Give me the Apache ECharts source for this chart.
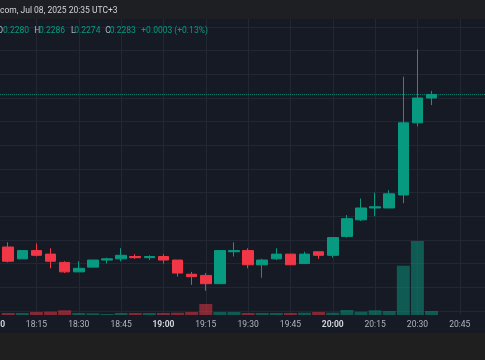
<!DOCTYPE html>
<html><head><meta charset="utf-8">
<script src="https://cdn.jsdelivr.net/npm/echarts@6/dist/echarts.min.js"></script>
<style>html,body{margin:0;padding:0;background:#161a25;}#c{width:485px;height:360px;}</style>
</head><body><div id="c"></div>
<script>
// ---- data (5-minute candles) ----
const times = ["18:05","18:10","18:15","18:20","18:25","18:30","18:35","18:40","18:45","18:50","18:55",
  "19:00","19:05","19:10","19:15","19:20","19:25","19:30","19:35","19:40","19:45","19:50","19:55",
  "20:00","20:05","20:10","20:15","20:20","20:25","20:30","20:35"];
const open = [0.2154,0.2144,0.2151,0.2148,0.2141,0.2133,0.2137,0.2143,0.2144,0.2146,0.2145,
  0.2146,0.2143,0.2131,0.2130,0.2123,0.2150,0.2151,0.2139,0.2144,0.2148,0.2140,0.2150,
  0.2147,0.2163,0.2177,0.2187,0.2187,0.2198,0.2259,0.2280];
const close = [0.2142,0.2151,0.2147,0.2142,0.2133,0.2136,0.2143,0.2144,0.2147,0.2145,0.2146,
  0.2143,0.2132,0.2129,0.2123,0.2151,0.2151,0.2139,0.2143,0.2148,0.2139,0.2148,0.2147,
  0.2162,0.2178,0.2187,0.2188,0.2199,0.2259,0.2280,0.2283];
const low = [0.2141,0.2144,0.2146,0.2136,0.2132,0.2133,0.2137,0.2140,0.2142,0.2144,0.2143,
  0.2140,0.2129,0.2122,0.2117,0.2123,0.2146,0.2136,0.2128,0.2143,0.2139,0.2140,0.2144,
  0.2145,0.2162,0.2176,0.2180,0.2187,0.2191,0.2256,0.2274];
const high = [0.2158,0.2151,0.2157,0.2153,0.2142,0.2142,0.2143,0.2145,0.2153,0.2148,0.2147,
  0.2148,0.2143,0.2133,0.2132,0.2151,0.2158,0.2153,0.2144,0.2153,0.2148,0.2150,0.2150,
  0.2162,0.2181,0.2195,0.2200,0.2202,0.2298,0.2321,0.2286];
const volume = [20,20,30,33,47,20,17,10,20,20,20,20,23,30,110,30,30,20,20,20,20,23,30,23,50,33,47,40,493,740,40];
const tickLabels = ["18:00","18:15","18:30","18:45","19:00","19:15","19:30","19:45","20:00","20:15","20:30","20:45","21:00"];
const headerText = "com, Jul 08, 2025 20:35 UTC+3";

// ---- build ----
const UP = '#089981', DOWN = '#f23645';
const BG = '#161a25', GRIDC = '#232733';
const toMin = s => { const [h, m] = s.split(':').map(Number); return (h - 18) * 60 + m; };
const candles = times.map((t, i) => [toMin(t), open[i], close[i], low[i], high[i]]);
const vols = times.map((t, i) => ({
  value: [toMin(t), volume[i]],
  itemStyle: { color: close[i] >= open[i] ? 'rgba(8,153,129,0.5)' : 'rgba(242,54,69,0.5)' }
}));
const n = times.length - 1;
const lastO = open[n], lastH = high[n], lastL = low[n], lastC = close[n];
const chg = lastC - lastO;
const chgTxt = (chg >= 0 ? '+' : '') + chg.toFixed(4) + ' (' + (chg >= 0 ? '+' : '') + (chg / lastO * 100).toFixed(2) + '%)';

const FONT = 'Roboto';
const FS = 8.5;
const X_MIN = 0, X_MAX = 180;
const xBase = { type: 'value', min: X_MIN, max: X_MAX, interval: 15 };

const chart = echarts.init(document.getElementById('c'), null, { renderer: 'canvas' });
chart.setOption({
  animation: false,
  backgroundColor: BG,
  grid: [
    { left: -5.9, right: -17.1, top: 3.36, bottom: 49.1, containLabel: false, outerBoundsMode: 'none' },
    { left: -5.9, right: -17.1, top: 215, bottom: 45, containLabel: false, outerBoundsMode: 'none' }
  ],
  xAxis: [
    Object.assign({}, xBase, { gridIndex: 0, axisLine: { show: false }, axisTick: { show: false }, axisLabel: { show: false },
      splitLine: { show: true, lineStyle: { color: GRIDC, width: 1 } } }),
    Object.assign({}, xBase, { gridIndex: 1, axisLine: { show: false }, axisTick: { show: false },
      splitLine: { show: true, lineStyle: { color: GRIDC, width: 1 } },
      axisLabel: { show: true, margin: 5, fontFamily: FONT, fontSize: FS, color: '#b2b5be',
        showMinLabel: true, showMaxLabel: true, hideOverlap: false,
        formatter: v => { const s = tickLabels[Math.round(v / 15)] || ''; return s.endsWith(':00') ? '{b|' + s + '}' : s; },
        rich: { b: { fontFamily: FONT, fontSize: FS, fontWeight: 'bold', color: '#d1d4dc' } } } })
  ],
  yAxis: [
    { type: 'value', gridIndex: 0, min: 0.2100, max: 0.2360, interval: 0.002, axisLine: { show: false }, axisTick: { show: false },
      axisLabel: { show: false }, splitLine: { show: true, lineStyle: { color: GRIDC, width: 1 } } },
    { type: 'value', gridIndex: 1, min: 0, max: 1000, axisLine: { show: false }, axisTick: { show: false },
      axisLabel: { show: false }, splitLine: { show: false } }
  ],
  series: [
    { type: 'bar', xAxisIndex: 1, yAxisIndex: 1, data: vols, barWidth: 13, z: 1 },
    { type: 'line', xAxisIndex: 0, yAxisIndex: 0, data: [[X_MIN, lastC], [X_MAX, lastC]], symbol: 'none', silent: true, z: 2,
      lineStyle: { color: UP, type: [1, 1], width: 1, opacity: 0.85 } },
    { type: 'candlestick', xAxisIndex: 0, yAxisIndex: 0, data: candles, encode: { x: 0, y: [1, 2, 3, 4] },
      barWidth: 11, z: 3,
      itemStyle: { color: UP, color0: DOWN, borderColor: UP, borderColor0: DOWN, borderWidth: 1 } }
  ],
  graphic: [
    { type: 'rect', left: 0, top: 0, shape: { width: 485, height: 19 }, style: { fill: '#1e1f22' }, z: 100 },
    { type: 'text', x: 0, y: 11, style: { text: headerText, fill: '#d1d4dc', font: FS + 'px ' + FONT, textVerticalAlign: 'middle' }, z: 101 },
    { type: 'text', x: 3, y: 31, style: { text: 'O', fill: '#b2b5be', font: FS + 'px ' + FONT, textAlign: 'right', textVerticalAlign: 'middle' }, z: 101 },
    { type: 'text', x: 3, y: 31, style: { text: lastO.toFixed(4), fill: UP, font: FS + 'px ' + FONT, textVerticalAlign: 'middle' }, z: 101 },
    { type: 'text', x: 34.3, y: 31, style: { text: 'H', fill: '#b2b5be', font: FS + 'px ' + FONT, textVerticalAlign: 'middle' }, z: 101 },
    { type: 'text', x: 39, y: 31, style: { text: lastH.toFixed(4), fill: UP, font: FS + 'px ' + FONT, textVerticalAlign: 'middle' }, z: 101 },
    { type: 'text', x: 71, y: 31, style: { text: 'L', fill: '#b2b5be', font: FS + 'px ' + FONT, textVerticalAlign: 'middle' }, z: 101 },
    { type: 'text', x: 74.3, y: 31, style: { text: lastL.toFixed(4), fill: UP, font: FS + 'px ' + FONT, textVerticalAlign: 'middle' }, z: 101 },
    { type: 'text', x: 105.3, y: 31, style: { text: 'C', fill: '#b2b5be', font: FS + 'px ' + FONT, textVerticalAlign: 'middle' }, z: 101 },
    { type: 'text', x: 109.7, y: 31, style: { text: lastC.toFixed(4), fill: UP, font: FS + 'px ' + FONT, textVerticalAlign: 'middle' }, z: 101 },
    { type: 'text', x: 141.3, y: 31, style: { text: chgTxt, fill: UP, font: FS + 'px ' + FONT, textVerticalAlign: 'middle' }, z: 101 },
    { type: 'rect', left: 0, top: 333, shape: { width: 485, height: 27 }, style: { fill: '#1f1f1f' }, z: 100 }
  ]
});
</script></body></html>
